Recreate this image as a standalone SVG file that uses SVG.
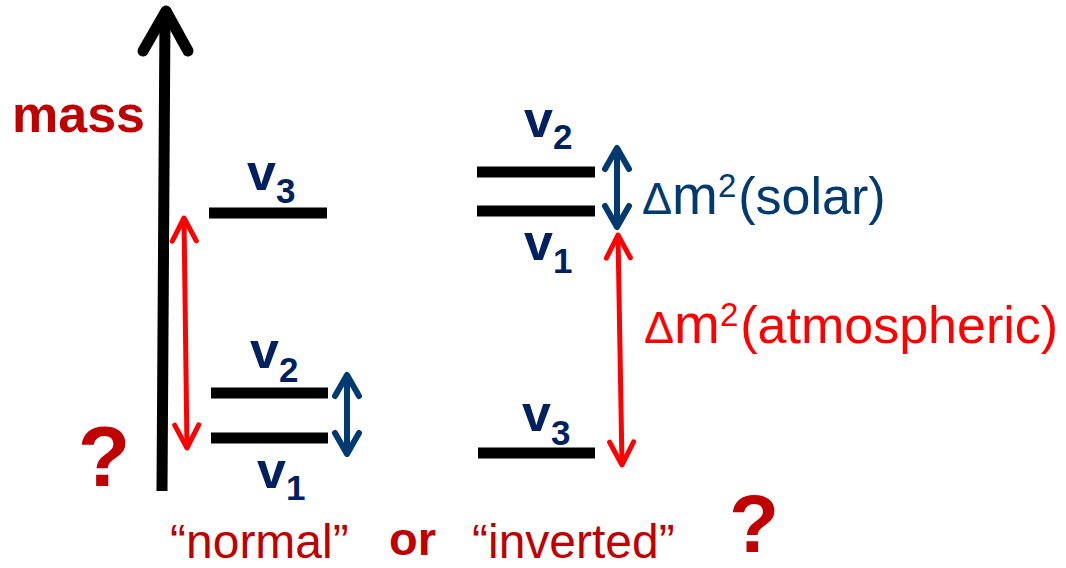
<svg xmlns="http://www.w3.org/2000/svg" width="1066" height="568" viewBox="0 0 1066 568">
  <style>
    .lvl { stroke: #000; stroke-width: 11; fill: none; }
    .vlab { font-family: "Liberation Sans", Arial, sans-serif; font-weight: bold; fill: #002060; font-size: 52px; }
    .sub { font-size: 35px; }
    .dred { fill: #C00000; font-family: "Liberation Sans", Arial, sans-serif; }
    .dm { font-family: "Liberation Sans", Arial, sans-serif; font-size: 52px; }
    .redarr { stroke: #FF0000; stroke-width: 5; fill: none; marker-start: url(#hr); marker-end: url(#hr); }
    .bluearr { stroke: #003A70; stroke-width: 6; fill: none; marker-start: url(#hb); marker-end: url(#hb); }
  </style>
  <defs>
    <marker id="hr" markerUnits="userSpaceOnUse" viewBox="-30 -20 40 40" refX="0" refY="0" markerWidth="40" markerHeight="40" orient="auto-start-reverse" overflow="visible">
      <path d="M -23 -12 L 0 0 L -23 12" fill="none" stroke="#FF0000" stroke-width="5" stroke-linecap="round" stroke-linejoin="round"/>
    </marker>
    <marker id="hb" markerUnits="userSpaceOnUse" viewBox="-30 -20 40 40" refX="0" refY="0" markerWidth="40" markerHeight="40" orient="auto-start-reverse" overflow="visible">
      <path d="M -21 -12 L 0 0 L -21 12" fill="none" stroke="#003A70" stroke-width="6" stroke-linecap="round" stroke-linejoin="round"/>
    </marker>
  </defs>

  <g id="mass-axis">
    <line x1="165" y1="14" x2="162" y2="491" stroke="#000" stroke-width="11"/>
    <path d="M 143 51 L 166 11 L 188 51" fill="none" stroke="#000" stroke-width="11" stroke-linecap="round" stroke-linejoin="round"/>
    <text x="12" y="132" class="dred" font-weight="bold" font-size="52">mass</text>
  </g>

  <g id="normal-v3">
    <line class="lvl" x1="209" y1="213" x2="327" y2="213"/>
    <text class="vlab" x="247" y="190">v<tspan class="sub" dy="13">3</tspan></text>
  </g>
  <g id="normal-v2">
    <line class="lvl" x1="211" y1="393" x2="328" y2="393"/>
    <text class="vlab" x="250" y="368">v<tspan class="sub" dy="14">2</tspan></text>
  </g>
  <g id="normal-v1">
    <line class="lvl" x1="211" y1="438" x2="328" y2="438"/>
    <text class="vlab" x="257" y="488">v<tspan class="sub" dy="12">1</tspan></text>
  </g>

  <g id="inverted-v2">
    <line class="lvl" x1="477" y1="172" x2="595" y2="172"/>
    <text class="vlab" x="524" y="137">v<tspan class="sub" dy="12">2</tspan></text>
  </g>
  <g id="inverted-v1">
    <line class="lvl" x1="477" y1="211" x2="595" y2="211"/>
    <text class="vlab" x="524" y="260">v<tspan class="sub" dy="13">1</tspan></text>
  </g>
  <g id="inverted-v3">
    <line class="lvl" x1="478" y1="453" x2="595" y2="453"/>
    <text class="vlab" x="522" y="431">v<tspan class="sub" dy="14">3</tspan></text>
  </g>

  <g id="connectors">
    <line class="redarr" x1="184" y1="218" x2="187" y2="448"/>
    <line class="bluearr" x1="347" y1="375" x2="347" y2="454"/>
    <line class="bluearr" x1="617" y1="148" x2="617" y2="227"/>
    <line class="redarr" x1="618" y1="235" x2="622" y2="465"/>
  </g>

  <g id="label-solar">
    <text x="642" y="214" class="dm" fill="#003A70"><tspan font-size="45">Δ</tspan><tspan font-size="55">m</tspan><tspan font-size="33" dy="-17">2</tspan><tspan dy="17" dx="2">(solar)</tspan></text>
  </g>
  <g id="label-atmospheric">
    <text x="644" y="343" class="dm" fill="#FF0000"><tspan font-size="45">Δ</tspan><tspan font-size="55">m</tspan><tspan font-size="33" dy="-17">2</tspan><tspan dy="17" dx="2">(atmospheric)</tspan></text>
  </g>

  <g id="question-left">
    <text x="104" y="486" class="dred" font-weight="bold" font-size="86" text-anchor="middle">?</text>
  </g>
  <g id="bottom-labels">
    <text x="170" y="558" class="dred" font-size="48">“normal”</text>
    <text x="389" y="555" class="dred" font-weight="bold" font-size="47">or</text>
    <text x="472" y="558" class="dred" font-size="48">“inverted”</text>
    <text x="754" y="552" class="dred" font-weight="bold" font-size="82" text-anchor="middle">?</text>
  </g>
</svg>
